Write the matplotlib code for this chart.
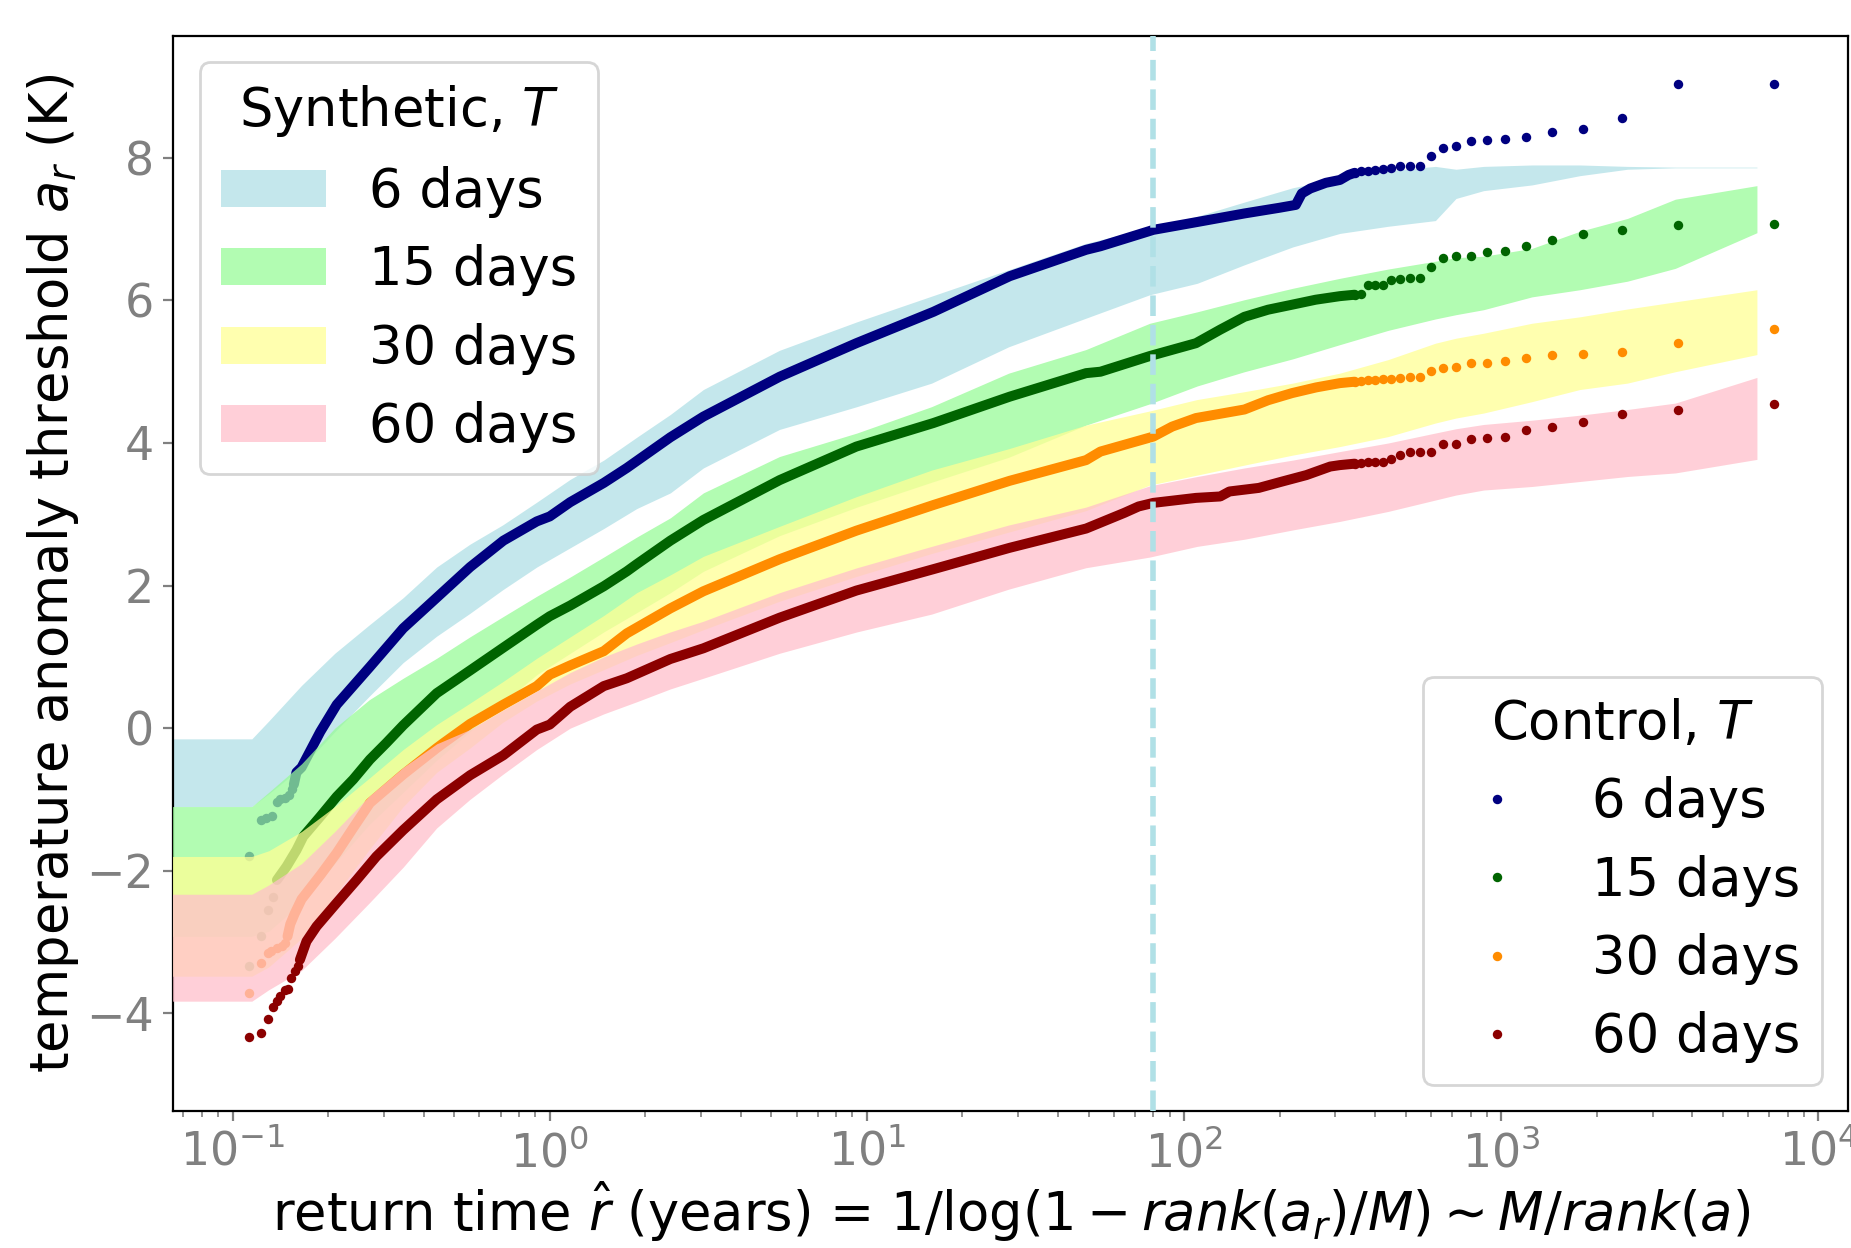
import matplotlib
matplotlib.use("Agg")
import matplotlib.pyplot as plt

# ---------------- data ----------------
durations = ["6 days", "15 days", "30 days", "60 days"]

# synthetic ensemble bands (return time grid, years)
band_r = [0.06, 0.115, 0.13, 0.165, 0.21, 0.27, 0.345, 0.44, 0.56, 0.71, 0.91, 1.16,
          1.48, 1.88, 2.4, 3.05, 5.3, 9.3, 16, 28, 49, 78, 110, 155, 220, 310, 440,
          620, 720, 880, 1250, 1770, 2500, 3540, 6400]
blue_hi = [-0.15, -0.15, 0.10, 0.60, 1.05, 1.45, 1.83, 2.26, 2.58, 2.85, 3.17, 3.49,
           3.76, 4.08, 4.40, 4.75, 5.30, 5.70, 6.06, 6.43, 6.80, 7.02, 7.18, 7.38, 7.58,
           7.72, 7.82, 7.88, 7.84, 7.88, 7.90, 7.90, 7.88, 7.87, 7.87]
blue_lo = [-1.10, -1.10, -0.92, -0.55, -0.05, 0.45, 0.92, 1.29, 1.61, 1.94, 2.26, 2.53,
           2.80, 3.08, 3.30, 3.65, 4.19, 4.51, 4.84, 5.35, 5.75, 6.08, 6.24, 6.50, 6.75,
           6.94, 7.04, 7.12, 7.43, 7.54, 7.62, 7.75, 7.84, 7.86, 7.86]
green_hi = [-1.10, -1.10, -0.90, -0.50, 0.00, 0.40, 0.70, 0.98, 1.28, 1.56, 1.85, 2.12,
            2.40, 2.68, 2.95, 3.30, 3.81, 4.14, 4.51, 4.98, 5.31, 5.68, 5.84, 6.01, 6.17,
            6.31, 6.44, 6.55, 6.60, 6.62, 6.73, 6.97, 7.15, 7.42, 7.61]
green_lo = [-2.92, -2.92, -2.85, -2.45, -1.90, -1.35, -0.90, -0.45, -0.05, 0.35, 0.75, 1.05,
            1.35, 1.62, 1.90, 2.20, 2.70, 3.10, 3.45, 3.80, 4.25, 4.55, 4.80, 5.00, 5.18,
            5.38, 5.58, 5.74, 5.80, 5.87, 6.05, 6.15, 6.27, 6.45, 6.95]
yellow_hi = [-1.80, -1.80, -1.72, -1.45, -1.10, -0.70, -0.30, 0.05, 0.35, 0.65, 0.98, 1.28,
             1.58, 1.90, 2.15, 2.41, 2.83, 3.25, 3.62, 3.92, 4.25, 4.45, 4.61, 4.72, 4.84,
             4.98, 5.17, 5.40, 5.47, 5.54, 5.68, 5.77, 5.88, 5.98, 6.15]
yellow_lo = [-3.48, -3.48, -3.35, -2.95, -2.35, -1.70, -1.10, -0.62, -0.28, 0.08, 0.38, 0.62,
             0.82, 1.02, 1.20, 1.38, 1.78, 2.13, 2.45, 2.75, 3.05, 3.41, 3.55, 3.69, 3.83,
             3.95, 4.09, 4.28, 4.35, 4.42, 4.58, 4.75, 4.84, 5.00, 5.24]
pink_hi = [-2.33, -2.33, -2.20, -1.90, -1.45, -0.95, -0.55, -0.22, -0.02, 0.25, 0.52, 0.78,
           1.00, 1.18, 1.35, 1.50, 1.90, 2.25, 2.55, 2.85, 3.10, 3.40, 3.53, 3.65, 3.76,
           3.88, 4.00, 4.14, 4.20, 4.26, 4.32, 4.39, 4.47, 4.56, 4.92]
pink_lo = [-3.83, -3.83, -3.67, -3.40, -2.95, -2.45, -1.95, -1.40, -1.00, -0.65, -0.30, 0.00,
           0.20, 0.37, 0.55, 0.70, 1.05, 1.35, 1.60, 1.95, 2.25, 2.40, 2.55, 2.65, 2.78,
           2.90, 3.04, 3.20, 3.27, 3.34, 3.39, 3.46, 3.53, 3.58, 3.77]

# control run: sparse largest events (shared return times)
tail_r = [7220, 3610, 2410, 1805, 1445, 1200, 1030, 900, 800, 720, 655, 600, 555, 515,
          480, 450, 425, 400, 380, 360, 345]
navy_tail = [9.04, 9.04, 8.56, 8.41, 8.36, 8.29, 8.27, 8.25, 8.23, 8.17, 8.14, 8.03, 7.88,
             7.88, 7.88, 7.86, 7.85, 7.83, 7.82, 7.81, 7.79]
green_tail = [7.07, 7.06, 6.99, 6.93, 6.85, 6.76, 6.69, 6.68, 6.63, 6.63, 6.59, 6.47, 6.31,
              6.31, 6.30, 6.28, 6.22, 6.21, 6.21, 6.09, 6.08]
orange_tail = [5.60, 5.40, 5.27, 5.25, 5.24, 5.19, 5.15, 5.12, 5.12, 5.06, 5.05, 5.01, 4.93,
               4.92, 4.91, 4.90, 4.90, 4.89, 4.88, 4.87, 4.86]
red_tail = [4.55, 4.46, 4.41, 4.29, 4.22, 4.18, 4.08, 4.07, 4.05, 3.99, 3.98, 3.87, 3.87,
            3.87, 3.83, 3.77, 3.73, 3.73, 3.73, 3.72, 3.70]

# control run: sparse smallest values (left end)
navy_left_r = [0.1128, 0.1226, 0.1275, 0.133, 0.138, 0.1411, 0.1462, 0.151, 0.1535]
navy_left_y = [-1.79, -1.29, -1.26, -1.23, -1.03, -1.00, -0.98, -0.94, -0.86]
green_left_r = [0.1128, 0.1226, 0.129, 0.1343]
green_left_y = [-3.34, -2.91, -2.55, -2.37]
orange_left_r = [0.1128, 0.1226, 0.129, 0.132, 0.138, 0.143, 0.146]
orange_left_y = [-3.71, -3.29, -3.15, -3.13, -3.08, -3.06, -3.02]
red_left_r = [0.1128, 0.1226, 0.129, 0.1343, 0.138, 0.1411, 0.1462, 0.150, 0.1524, 0.157, 0.161]
red_left_y = [-4.33, -4.27, -4.08, -3.91, -3.83, -3.76, -3.68, -3.66, -3.51, -3.41, -3.34]

# control run: dense middle part
navy_r = [0.156, 0.159, 0.165, 0.189, 0.213, 0.271, 0.345, 0.44, 0.561, 0.714, 0.91, 1.0,
          1.16, 1.48, 1.75, 2.4, 3.05, 5.31, 9.26, 16.2, 28.2, 49.1, 54.5, 80, 110, 155,
          200, 225, 235, 250, 280, 310, 330, 345]
navy_y = [-0.79, -0.62, -0.55, -0.05, 0.33, 0.86, 1.40, 1.83, 2.26, 2.63, 2.90, 2.97,
          3.17, 3.44, 3.65, 4.08, 4.37, 4.93, 5.40, 5.84, 6.34, 6.71, 6.76, 6.99, 7.10, 7.22,
          7.30, 7.34, 7.50, 7.57, 7.65, 7.69, 7.76, 7.79]
green_r = [0.138, 0.148, 0.159, 0.167, 0.189, 0.213, 0.24, 0.271, 0.305, 0.345, 0.44, 0.561,
           0.714, 0.91, 1.0, 1.16, 1.48, 1.75, 1.88, 2.4, 3.05, 5.31, 9.26, 16.2, 28.2, 49.1,
           54.5, 78, 109, 130, 155, 184, 219, 260, 310, 345]
green_y = [-2.13, -1.94, -1.71, -1.52, -1.24, -0.96, -0.72, -0.44, -0.21, 0.04, 0.49, 0.81,
           1.13, 1.45, 1.57, 1.72, 1.99, 2.20, 2.30, 2.63, 2.92, 3.48, 3.95, 4.28, 4.65, 4.98,
           5.00, 5.22, 5.40, 5.59, 5.77, 5.87, 5.94, 6.01, 6.06, 6.08]
orange_r = [0.149, 0.152, 0.157, 0.165, 0.19, 0.213, 0.24, 0.271, 0.345, 0.44, 0.462, 0.561,
            0.714, 0.91, 1.0, 1.16, 1.48, 1.75, 2.4, 3.05, 5.31, 9.26, 16.2, 28.2, 49.1, 54.5,
            80, 91.7, 109, 155, 184, 219, 261, 310, 345]
orange_y = [-2.92, -2.75, -2.60, -2.40, -2.05, -1.75, -1.40, -1.05, -0.65, -0.28, -0.21, 0.06,
            0.33, 0.59, 0.75, 0.88, 1.08, 1.33, 1.68, 1.92, 2.37, 2.77, 3.13, 3.47, 3.76, 3.88,
            4.09, 4.23, 4.35, 4.47, 4.60, 4.70, 4.78, 4.84, 4.86]
red_r = [0.163, 0.171, 0.184, 0.213, 0.246, 0.284, 0.345, 0.44, 0.561, 0.714, 0.91, 1.0,
         1.16, 1.48, 1.75, 2.4, 3.05, 5.31, 9.26, 16.2, 28.2, 49.1, 64.8, 71.9, 80, 109,
         130, 139, 172, 204, 243, 289, 310, 345]
red_y = [-3.25, -2.99, -2.78, -2.45, -2.13, -1.80, -1.43, -1.00, -0.66, -0.38, -0.02, 0.05,
         0.30, 0.59, 0.70, 0.97, 1.12, 1.55, 1.93, 2.23, 2.53, 2.80, 3.02, 3.11, 3.16, 3.23,
         3.25, 3.32, 3.37, 3.46, 3.55, 3.67, 3.69, 3.71]

threshold_r = 80  # vertical dashed line

# ---------------- styling ----------------
band_colors = ["#b0e0e6", "#98fb98", "#ffff95", "#ffc0cb"]
band_alpha = 0.75
point_colors = ["navy", "darkgreen", "darkorange", "darkred"]

fig = plt.figure(figsize=(9.255, 6.24), dpi=200)
ax = fig.add_axes([0.0936, 0.1098, 0.9048, 0.8614])

bands = [(blue_lo, blue_hi), (green_lo, green_hi), (yellow_lo, yellow_hi), (pink_lo, pink_hi)]
lefts = [(navy_left_r, navy_left_y), (green_left_r, green_left_y),
         (orange_left_r, orange_left_y), (red_left_r, red_left_y)]
denses = [(navy_r, navy_y), (green_r, green_y), (orange_r, orange_y), (red_r, red_y)]
tails = [navy_tail, green_tail, orange_tail, red_tail]

band_handles, point_handles = [], []
ms = 3.4
for i in range(4):
    lo, hi = bands[i]
    zb = 1 + 2 * i
    h = ax.fill_between(band_r, lo, hi, color=band_colors[i], alpha=band_alpha,
                        linewidth=0, label=durations[i], zorder=zb)
    band_handles.append(h)
    c = point_colors[i]
    ax.plot(denses[i][0], denses[i][1], color=c, lw=3.6, solid_capstyle="round",
            solid_joinstyle="round", zorder=zb + 1)
    ax.plot(lefts[i][0], lefts[i][1], "o", color=c, ms=ms, mew=0, zorder=zb + 1)
    p, = ax.plot(tail_r, tails[i], "o", color=c, ms=ms, mew=0, label=durations[i],
                 zorder=zb + 1)
    point_handles.append(p)

ax.axvline(threshold_r, color="#b0e0e6", lw=2.0, ls="--", zorder=10)

ax.set_xscale("log")
ax.set_xlim(0.065, 12400)
ax.set_ylim(-5.37, 9.71)
ax.set_yticks([-4, -2, 0, 2, 4, 6, 8])

ax.tick_params(axis="both", which="both", colors="gray", labelsize=16.5)
ax.tick_params(axis="both", which="major", length=3.5, width=0.8)
for s in ax.spines.values():
    s.set_color("black")

ax.set_xlabel(r"return time $\hat{r}$ (years) = 1/log($1 - rank(a_r)/M) \sim M/rank(a)$",
              fontsize=19, labelpad=1)
ax.set_ylabel(r"temperature anomaly threshold $a_r$ (K)", fontsize=19, labelpad=2)

leg1 = ax.legend(handles=band_handles, labels=durations, title=r"Synthetic, $T$",
                 loc="upper left", fontsize=19, title_fontsize=19)
leg1.set_zorder(20)
ax.add_artist(leg1)
leg2 = ax.legend(handles=point_handles, labels=durations, title=r"Control, $T$",
                 loc="lower right", fontsize=19, title_fontsize=19)
leg2.set_zorder(20)

fig.savefig("out.png", dpi=200)
